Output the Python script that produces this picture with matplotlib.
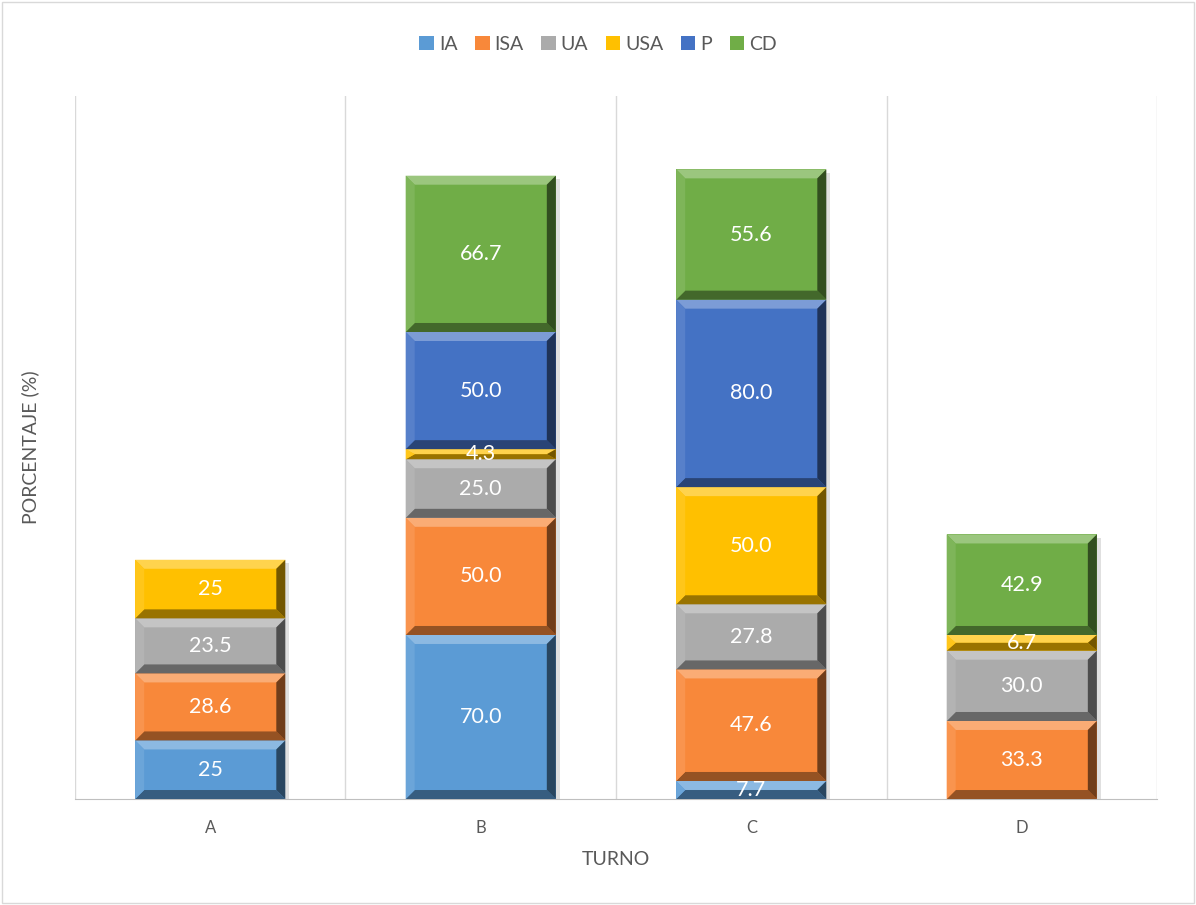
import numpy as np
import matplotlib.pyplot as plt
from matplotlib.patches import Polygon, Rectangle
from matplotlib.colors import to_rgb

turnos = ['A', 'B', 'C', 'D']
series = ['IA', 'ISA', 'UA', 'USA', 'P', 'CD']
IA = [25, 70.0, 7.7, 0]
ISA = [28.6, 50.0, 47.6, 33.3]
UA = [23.5, 25.0, 27.8, 30.0]
USA = [25, 4.3, 50.0, 6.7]
P = [0, 50.0, 80.0, 0]
CD = [0, 66.7, 55.6, 42.9]
# turno A is labelled without forced decimals
label_fmt = ['{:g}', '{:.1f}', '{:.1f}', '{:.1f}']

colors = ['#5B9BD5', '#F8883A', '#ABABAB', '#FFC000', '#4472C4', '#70AD47']
data = [IA, ISA, UA, USA, P, CD]

plt.rcParams['font.family'] = ['Lato', 'DejaVu Sans']
fig = plt.figure(figsize=(11.96, 9.05), dpi=100)
ax = fig.add_axes([0.0627, 0.1171, 0.9047, 0.7768])

x = np.arange(len(turnos))
width = 0.555
ymax = 300
ax.set_xlim(-0.5, 3.5)
ax.set_ylim(0, ymax)


def mix(c, t, amt):
    c = np.array(to_rgb(c))
    return tuple(c + (np.array(t) - c) * amt)


def bevel(ax, x0, y0, w, h, color, bpx=9):
    # convert bevel size in pixels to data units
    p0 = ax.transData.transform((0, 0))
    p1 = ax.transData.transform((1, 1))
    dx = bpx / (p1[0] - p0[0])
    dy = bpx / (p1[1] - p0[1])
    dy = min(dy, h / 2)
    dx = min(dx, w / 2)
    x1, y1 = x0 + w, y0 + h
    top = [(x0, y1), (x1, y1), (x1 - dx, y1 - dy), (x0 + dx, y1 - dy)]
    bot = [(x0, y0), (x1, y0), (x1 - dx, y0 + dy), (x0 + dx, y0 + dy)]
    lft = [(x0, y0), (x0, y1), (x0 + dx, y1 - dy), (x0 + dx, y0 + dy)]
    rgt = [(x1, y0), (x1, y1), (x1 - dx, y1 - dy), (x1 - dx, y0 + dy)]
    ax.add_patch(Polygon(top, closed=True, fc=mix(color, (1, 1, 1), 0.3), ec='none', zorder=3))
    ax.add_patch(Polygon(bot, closed=True, fc=mix(color, (0, 0, 0), 0.4), ec='none', zorder=3))
    ax.add_patch(Polygon(lft, closed=True, fc=mix(color, (1, 1, 1), 0.1), ec='none', zorder=3))
    ax.add_patch(Polygon(rgt, closed=True, fc=mix(color, (0, 0, 0), 0.55), ec='none', zorder=3))


fig.canvas.draw()
bottom = np.zeros(len(turnos))
bars = []
for name, vals, col in zip(series, data, colors):
    vals = np.array(vals, dtype=float)
    b = ax.bar(x, vals, width, bottom=bottom, color=col, label=name, zorder=2)
    bars.append(b)
    for i, (rect, v) in enumerate(zip(b, vals)):
        if v <= 0:
            continue
        bevel(ax, rect.get_x(), rect.get_y(), rect.get_width(), rect.get_height(), col)
        ax.text(rect.get_x() + rect.get_width() / 2, rect.get_y() + v / 2,
                label_fmt[i].format(v), ha='center', va='center',
                color='white', fontsize=15.5, zorder=5)
    bottom += vals

# soft shadow to the right of each stack
for i, tot in enumerate(bottom):
    ax.add_patch(Rectangle((x[i] + width / 2, 0), 0.014, tot - 1.5,
                           fc='#000000', alpha=0.12, ec='none', zorder=1))

ax.set_xticks(x)
ax.set_xticklabels(turnos, fontsize=12, color='#595959')
ax.set_yticks([])
ax.tick_params(axis='x', length=0, pad=15)
for xv in np.arange(-0.5, 4, 1):
    ax.axvline(xv, color='#D9D9D9', lw=1, zorder=0)
for s in ['top', 'left', 'right']:
    ax.spines[s].set_visible(False)
ax.spines['bottom'].set_color('#BFBFBF')
ax.set_xlabel('TURNO', fontsize=14, color='#595959', labelpad=11)
ax.set_ylabel('PORCENTAJE (%)', fontsize=14, color='#595959', labelpad=26)

ax.legend(ncol=6, loc='center', bbox_to_anchor=(0.5, (905 - 44) / 905),
          bbox_transform=fig.transFigure, frameon=False, fontsize=14,
          handlelength=0.75, handleheight=0.75, handletextpad=0.25,
          columnspacing=0.9, labelcolor='#595959')

fig.patches.append(Rectangle((0.002, 0.002), 0.996, 0.996, transform=fig.transFigure,
                             fill=False, ec='#D9D9D9', lw=1))
fig.savefig('out.png', dpi=100)
